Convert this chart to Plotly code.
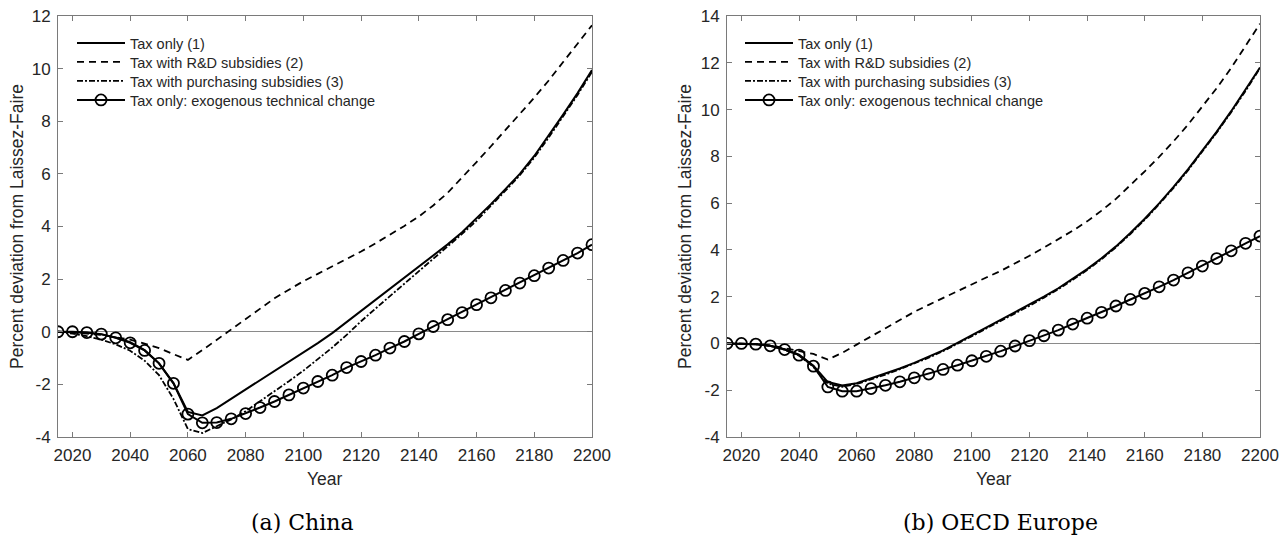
import plotly.graph_objects as go

years = [2015, 2020, 2025, 2030, 2035, 2040, 2045, 2050, 2055, 2060, 2065, 2070, 2075,
         2080, 2085, 2090, 2095, 2100, 2105, 2110, 2115, 2120, 2125, 2130, 2135, 2140,
         2145, 2150, 2155, 2160, 2165, 2170, 2175, 2180, 2185, 2190, 2195, 2200]

series_names = ["Tax only (1)", "Tax with R&D subsidies (2)",
                "Tax with purchasing subsidies (3)", "Tax only: exogenous technical change"]

# (a) China
china_tax = [0, -0.01, -0.04, -0.10, -0.22, -0.40, -0.70, -1.20, -1.95, -3.05, -3.18, -2.90, -2.55,
             -2.20, -1.85, -1.50, -1.15, -0.80, -0.43, -0.05, 0.37, 0.80, 1.22, 1.65, 2.07, 2.50,
             2.90, 3.32, 3.78, 4.30, 4.85, 5.42, 6.00, 6.68, 7.45, 8.25, 9.07, 9.95]
china_rd = [0, -0.03, -0.07, -0.12, -0.20, -0.30, -0.45, -0.62, -0.85, -1.07, -0.70, -0.30, 0.07,
            0.50, 0.90, 1.27, 1.60, 1.92, 2.20, 2.48, 2.76, 3.05, 3.36, 3.68, 4.02, 4.38,
            4.80, 5.28, 5.85, 6.45, 7.05, 7.65, 8.28, 8.90, 9.55, 10.25, 10.95, 11.65]
china_purch = [0, -0.07, -0.17, -0.30, -0.48, -0.72, -1.10, -1.65, -2.55, -3.70, -3.85, -3.60, -3.33,
               -3.02, -2.65, -2.28, -1.88, -1.48, -1.05, -0.60, -0.12, 0.40, 0.88, 1.35, 1.82, 2.30,
               2.76, 3.23, 3.72, 4.22, 4.78, 5.36, 5.95, 6.62, 7.38, 8.18, 9.00, 9.88]
china_exo = [0, 0, -0.03, -0.09, -0.23, -0.42, -0.71, -1.20, -1.96, -3.13, -3.46, -3.45, -3.31,
             -3.11, -2.88, -2.65, -2.40, -2.14, -1.89, -1.65, -1.36, -1.13, -0.89, -0.62, -0.37, -0.08,
             0.20, 0.46, 0.73, 1.03, 1.29, 1.57, 1.85, 2.13, 2.42, 2.71, 2.99, 3.31]

# (b) OECD Europe
europe_tax = [0, 0, -0.03, -0.10, -0.25, -0.48, -0.95, -1.65, -1.80, -1.70, -1.50, -1.30, -1.07,
              -0.83, -0.58, -0.30, 0.02, 0.35, 0.68, 1.00, 1.33, 1.65, 2.00, 2.36, 2.76, 3.18,
              3.64, 4.15, 4.72, 5.33, 5.99, 6.69, 7.44, 8.23, 9.06, 9.93, 10.84, 11.80]
europe_rd = [0, 0, -0.02, -0.08, -0.20, -0.30, -0.45, -0.69, -0.40, -0.05, 0.30, 0.67, 1.02,
             1.35, 1.65, 1.95, 2.25, 2.55, 2.82, 3.10, 3.42, 3.75, 4.10, 4.45, 4.82, 5.22,
             5.68, 6.18, 6.75, 7.36, 7.98, 8.64, 9.35, 10.11, 10.92, 11.78, 12.70, 13.67]
europe_purch = [0, 0, -0.03, -0.11, -0.27, -0.52, -1.00, -1.72, -1.85, -1.74, -1.54, -1.33, -1.10,
                -0.86, -0.61, -0.33, -0.02, 0.31, 0.64, 0.96, 1.29, 1.61, 1.96, 2.32, 2.72, 3.14,
                3.60, 4.11, 4.68, 5.29, 5.95, 6.65, 7.40, 8.19, 9.02, 9.89, 10.80, 11.77]
europe_exo = [0, 0, -0.03, -0.10, -0.26, -0.50, -0.97, -1.86, -2.04, -2.04, -1.93, -1.79, -1.64,
              -1.47, -1.31, -1.11, -0.93, -0.74, -0.55, -0.33, -0.11, 0.12, 0.33, 0.57, 0.83, 1.08,
              1.33, 1.60, 1.88, 2.14, 2.42, 2.71, 3.02, 3.31, 3.63, 3.96, 4.28, 4.59]

x_ticks = [2020, 2040, 2060, 2080, 2100, 2120, 2140, 2160, 2180, 2200]
china_yticks = [-4, -2, 0, 2, 4, 6, 8, 10, 12]
europe_yticks = [-4, -2, 0, 2, 4, 6, 8, 10, 12, 14]
panel_titles = ["(a) China", "(b) OECD Europe"]
axis_x_title = "Year"
axis_y_title = "Percent deviation from Laissez-Faire"

W, H = 1280, 538
FONT = "Liberation Sans, Arial, sans-serif"
TXT = "#262626"
AXC = "#7a7a7a"

fig = go.Figure()

styles = [
    dict(mode="lines", line=dict(color="black", width=2)),
    dict(mode="lines", line=dict(color="black", width=1.8, dash="7px,5px")),
    dict(mode="lines", line=dict(color="black", width=1.8, dash="6px,2px,2px,2px")),
    dict(mode="lines+markers", line=dict(color="black", width=2),
         marker=dict(symbol="circle-open", size=11, color="black", line=dict(width=1.8))),
]

panels = [
    (china_tax, china_rd, china_purch, china_exo, "x", "y"),
    (europe_tax, europe_rd, europe_purch, europe_exo, "x2", "y2"),
]

def px_x(v):
    return v / W

def px_y(v):
    return 1 - v / H

legend_rows = [43, 62, 81, 100]
legend_x0 = [72, 740]
legend_layout = {}
k = 0
for pi, p in enumerate(panels):
    data = p[:4]
    xa, ya = p[4], p[5]
    for si, (name, vals, st) in enumerate(zip(series_names, data, styles)):
        k += 1
        lg = "legend" if k == 1 else f"legend{k}"
        fig.add_trace(go.Scatter(x=years, y=vals, name=name, xaxis=xa, yaxis=ya,
                                 legend=lg, **st))
        legend_layout[lg] = dict(x=px_x(legend_x0[pi]), y=px_y(legend_rows[si]),
                                 xanchor="left", yanchor="middle",
                                 bgcolor="rgba(0,0,0,0)", borderwidth=0,
                                 font=dict(family=FONT, size=14.5, color=TXT),
                                 itemwidth=48)

axis_common = dict(showline=True, linecolor=AXC, linewidth=1, mirror="ticks",
                   ticks="inside", ticklen=5, tickcolor=AXC, tickwidth=1,
                   showgrid=False, automargin=False,
                   tickfont=dict(family=FONT, size=17, color=TXT))

left_dom = [px_x(58), px_x(592)]
right_dom = [px_x(727), px_x(1260)]
ydom = [px_y(437), px_y(16)]

fig.update_layout(
    width=W, height=H, margin=dict(l=0, r=0, t=0, b=0, autoexpand=False),
    paper_bgcolor="white", plot_bgcolor="white",
    xaxis=dict(domain=left_dom, range=[2015, 2200], tickvals=x_ticks,
               ticktext=[str(t) for t in x_ticks], anchor="y",
               zeroline=False, ticklabelstandoff=3, **axis_common),
    yaxis=dict(domain=ydom, range=[-4, 12], tickvals=china_yticks,
               ticktext=[str(t) for t in china_yticks], anchor="x",
               zeroline=True, zerolinecolor="#8a8a8a", zerolinewidth=1,
               ticklabelstandoff=3, **axis_common),
    xaxis2=dict(domain=right_dom, range=[2015, 2200], tickvals=x_ticks,
                ticktext=[str(t) for t in x_ticks], anchor="y2",
                zeroline=False, ticklabelstandoff=3, **axis_common),
    yaxis2=dict(domain=ydom, range=[-4, 14], tickvals=europe_yticks,
                ticktext=[str(t) for t in europe_yticks], anchor="x2",
                zeroline=True, zerolinecolor="#8a8a8a", zerolinewidth=1,
                ticklabelstandoff=3, **axis_common),
    showlegend=True,
    **legend_layout,
)

annots = []
for cx, ycx in [(325, 17), (994, 685)]:
    annots.append(dict(text=axis_x_title, x=px_x(cx), y=px_y(479), xref="paper", yref="paper",
                       showarrow=False, xanchor="center", yanchor="middle",
                       font=dict(family=FONT, size=17.5, color=TXT)))
    annots.append(dict(text=axis_y_title, x=px_x(ycx), y=px_y(227), xref="paper", yref="paper",
                       showarrow=False, textangle=-90, xanchor="center", yanchor="middle",
                       font=dict(family=FONT, size=17.5, color=TXT)))
for txt, cx in zip(panel_titles, [302, 1000]):
    annots.append(dict(text=txt, x=px_x(cx), y=px_y(522), xref="paper", yref="paper",
                       showarrow=False, xanchor="center", yanchor="middle",
                       font=dict(family="DejaVu Serif, serif", size=22, color="black")))
fig.update_layout(annotations=annots)

fig.write_html("out.html",
               config={"displayModeBar": False},
               post_script="document.body.style.margin='0px';"
                           "document.documentElement.style.overflow='hidden';")
